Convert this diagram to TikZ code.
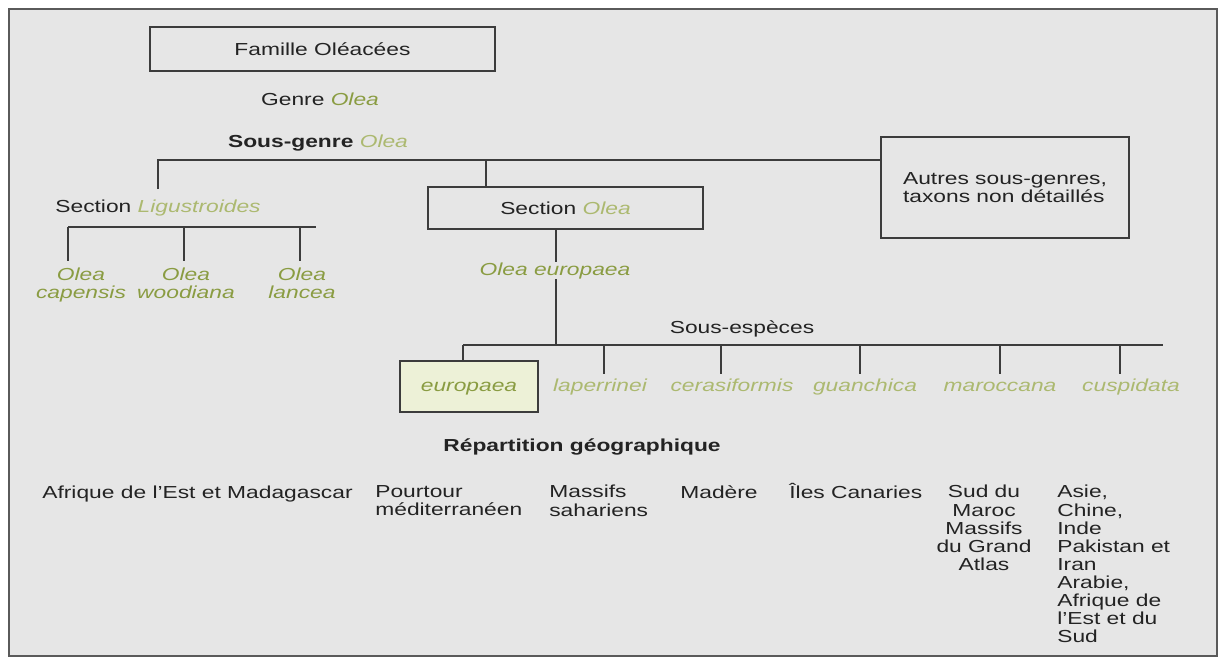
\documentclass[tikz,border=0pt]{standalone}
\usepackage{fontspec}
\setmainfont{Liberation Sans}[FakeStretch=1.31]
\usepackage{xcolor}
\usepackage{tikz}
\usetikzlibrary{positioning}
\definecolor{frameGrey}{RGB}{90,90,90}
\definecolor{paperGrey}{RGB}{230,230,230}
\definecolor{lineGrey}{RGB}{60,60,60}
\definecolor{inkGrey}{RGB}{35,35,35}
\definecolor{oliveGreen}{RGB}{138,156,66}
\definecolor{paleGreen}{RGB}{172,185,112}
\definecolor{boxFill}{RGB}{237,241,215}
\newcommand{\olea}[1]{\textcolor{oliveGreen}{\itshape #1}}
\newcommand{\paleolea}[1]{\textcolor{paleGreen}{\itshape #1}}
\tikzset{
  txt/.style={font=\fontsize{9.9}{10.3}\selectfont, text=inkGrey, inner sep=0pt},
  taxbox/.style={txt, draw=lineGrey, line width=1.3pt},
  tree/.style={draw=lineGrey, line width=1.2pt},
  place/.style={txt, anchor=north west, align=left},
}

\begin{document}
\begin{tikzpicture}[x=0.02cm, y=-0.02cm]
\useasboundingbox (0,0) rectangle (1221,659);
\fill[white] (0,0) rectangle (1221,659);
\draw[frameGrey, line width=1.4pt, fill=paperGrey] (9,9) rectangle (1217,656);

\node[taxbox, minimum width=6.9cm, minimum height=0.88cm] (famille) at (322.5,49) {Famille Oléacées};
\node[txt] (genre) at (320,99) {Genre \olea{Olea}};
\node[txt] (sousgenre) at (318,143) {\textbf{Sous-genre} \paleolea{Olea}};

\node[txt] (ligu) at (158,208) {Section \paleolea{Ligustroides}};
\node[taxbox, minimum width=5.5cm, minimum height=0.84cm] (secolea) at (565.5,208) {Section \paleolea{Olea}};
\node[taxbox, align=left, minimum width=4.96cm, minimum height=2.02cm] (autres) at (1005,187.5) {Autres sous-genres,\\taxons non détaillés};

\coordinate (sgbar) at (158,160);
\coordinate (sgmid) at (486,160);
\coordinate (liguTop) at (158,189);
\draw[tree] (liguTop) |- (sgbar -| autres.west);
\draw[tree] (sgmid) -- (sgmid |- secolea.north);

\coordinate (liguBar) at (68,227);
\coordinate (liguBarEnd) at (316,227);
\draw[tree] (liguBar) -- (liguBarEnd);
\foreach \n/\x/\d in {capensis/81/68, woodiana/186/184, lancea/302/300}
{
\node[txt, align=center, anchor=north, outer ysep=4pt] (\n) at (\x,261) {\olea{Olea}\\\olea{\n}};
\draw[tree] (\d,0 |- liguBar) -- (\d,0 |- \n.north);
}

\node[txt, anchor=base] (europaeaLbl) at (555,275) {\olea{Olea europaea}};
\coordinate (euTop) at (556,229);
\draw[tree] (euTop) -- (euTop |- europaeaLbl.north);

\node[txt] (sousesp) at (742,329) {Sous-espèces};
\coordinate (sspBar) at (463,345);
\coordinate (sspBarEnd) at (1163,345);
\draw[tree] (sspBar) -- (sspBarEnd);
\draw[tree] (europaeaLbl.south -| euTop) -- (euTop |- sspBar);

\node[taxbox, fill=boxFill, minimum width=2.76cm, minimum height=1.02cm] (europaea) at (469,386.5) {};
\node[txt, anchor=base] (europaeaTxt) at (europaea.center |- 0,391) {\olea{europaea}};
\draw[tree] (sspBar) -- (sspBar |- europaea.north);
\foreach \n/\x/\d in {laperrinei/600/604, cerasiformis/732/721, guanchica/865/860, maroccana/1000/1000, cuspidata/1131/1120}
{
\node[txt, anchor=base, text height=7.2pt, outer ysep=2.5pt] (\n) at (\x,391) {\paleolea{\n}};
\draw[tree] (\d,0 |- sspBar) -- (\d,0 |- \n.north);
}

\node[txt] (repart) at (582,447) {\textbf{Répartition géographique}};

\node[place, text height=7.3pt] (afriqueEst) at (42,485) {Afrique de l'Est et Madagascar};
\node[place] (pourtour) at (375,485) {Pourtour\\méditerranéen};
\node[place] (sahara) at (549,485) {Massifs\\sahariens};
\node[place, text height=7.3pt] (madere) at (680,485) {Madère};
\node[place, text height=7.3pt] (canaries) at (789,485) {Îles Canaries};
\node[txt, anchor=north, align=center] (sudMaroc) at (984,485) {Sud du\\Maroc\\Massifs\\du Grand\\Atlas};
\node[place] (asie) at (1057,485) {Asie,\\Chine,\\Inde\\Pakistan et\\Iran\\Arabie,\\Afrique de\\l'Est et du\\Sud};
\end{tikzpicture}
\end{document}
